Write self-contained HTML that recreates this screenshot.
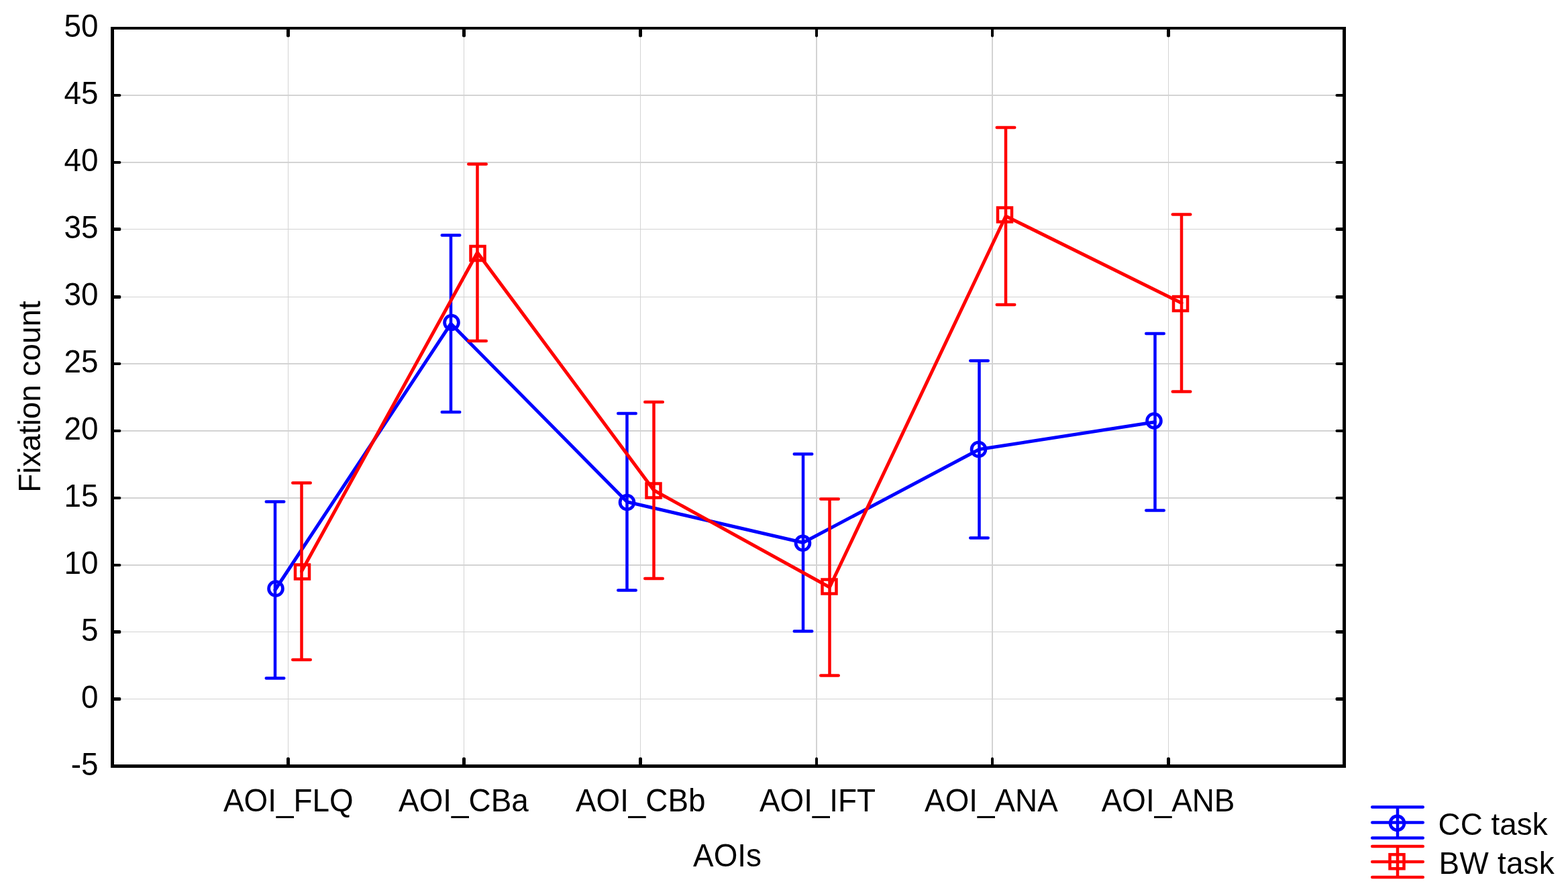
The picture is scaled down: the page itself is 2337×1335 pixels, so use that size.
<!DOCTYPE html>
<html lang="en">
<head>
<meta charset="utf-8">
<title>Fixation count by AOI</title>
<style>
html,body{margin:0;padding:0;background:#fff}
body{width:2337px;height:1335px;overflow:hidden}
svg{display:block}
</style>
</head>
<body>
<svg width="2337" height="1335" viewBox="0 0 2337 1335" role="img" aria-label="Fixation count by AOI for CC task and BW task">
<rect width="2337" height="1335" fill="#fff"/>
<g fill="#d3d3d3" shape-rendering="crispEdges">
<rect x="170" y="141" width="1831" height="2"/>
<rect x="170" y="241" width="1831" height="2"/>
<rect x="170" y="341" width="1831" height="1"/>
<rect x="170" y="442" width="1831" height="1"/>
<rect x="170" y="541" width="1831" height="2"/>
<rect x="170" y="641" width="1831" height="2"/>
<rect x="170" y="741" width="1831" height="2"/>
<rect x="170" y="841" width="1831" height="2"/>
<rect x="170" y="941" width="1831" height="1"/>
<rect x="170" y="1041" width="1831" height="1"/>
<rect x="429" y="44" width="1" height="1095"/>
<rect x="691" y="44" width="1" height="1095"/>
<rect x="954" y="44" width="1" height="1095"/>
<rect x="1216" y="44" width="2" height="1095"/>
<rect x="1478" y="44" width="2" height="1095"/>
<rect x="1741" y="44" width="1" height="1095"/>
</g>
<path d="M169 140H179L180.2 141V143L179 144H169ZM2002 140H1992L1990.6 141V143L1992 144H2002ZM169 240H179L180.2 241V243L179 244H169ZM2002 240H1992L1990.6 241V243L1992 244H2002ZM169 339H179L180.2 340V343L179 344H169ZM2002 339H1992L1990.6 340V343L1992 344H2002ZM169 440H179L180.2 441V444L179 445H169ZM2002 440H1992L1990.6 441V444L1992 445H2002ZM169 540H179L180.2 541V543L179 544H169ZM2002 540H1992L1990.6 541V543L1992 544H2002ZM169 640H179L180.2 641V643L179 644H169ZM2002 640H1992L1990.6 641V643L1992 644H2002ZM169 740H179L180.2 741V743L179 744H169ZM2002 740H1992L1990.6 741V743L1992 744H2002ZM169 840H179L180.2 841V843L179 844H169ZM2002 840H1992L1990.6 841V843L1992 844H2002ZM169 939H179L180.2 940V943L179 944H169ZM2002 939H1992L1990.6 940V943L1992 944H2002ZM169 1039H179L180.2 1040V1043L179 1044H169ZM2002 1039H1992L1990.6 1040V1043L1992 1044H2002ZM427 43V54L428 55.2H431L432 54V43ZM427 1140V1130L428 1128.4H431L432 1130V1140ZM689 43V54L690 55.2H693L694 54V43ZM689 1140V1130L690 1128.4H693L694 1130V1140ZM952 43V54L953 55.2H956L957 54V43ZM952 1140V1130L953 1128.4H956L957 1130V1140ZM1215 43V54L1216 55.2H1218L1219 54V43ZM1215 1140V1130L1216 1128.4H1218L1219 1130V1140ZM1477 43V54L1478 55.2H1480L1481 54V43ZM1477 1140V1130L1478 1128.4H1480L1481 1130V1140ZM1739 43V54L1740 55.2H1743L1744 54V43ZM1739 1140V1130L1740 1128.4H1743L1744 1130V1140Z" fill="#000"/>
<g stroke="#0000ff" stroke-width="4.5" fill="none" stroke-linecap="round" stroke-linejoin="round">
<path d="M410 747.5V1010.5M396.75 747.5h26.5M396.75 1010.5h26.5M672 350.5V614M658.75 350.5h26.5M658.75 614h26.5M934.5 616V879.5M921.25 616h26.5M921.25 879.5h26.5M1197 676.5V940.5M1183.75 676.5h26.5M1183.75 940.5h26.5M1459.5 537.5V801.5M1446.25 537.5h26.5M1446.25 801.5h26.5M1721.5 497V760.5M1708.25 497h26.5M1708.25 760.5h26.5"/>
<polyline points="410,879.0 672,482.25 934.5,747.75 1197,808.5 1459.5,669.5 1721.5,628.75" stroke-width="5"/>
<circle cx="411" cy="877" r="10.4" stroke-width="4.8"/>
<circle cx="673" cy="480.5" r="10.4" stroke-width="4.8"/>
<circle cx="934.5" cy="748.5" r="10.4" stroke-width="4.8"/>
<circle cx="1196.5" cy="809.3" r="10.4" stroke-width="4.8"/>
<circle cx="1458.5" cy="669.5" r="10.4" stroke-width="4.8"/>
<circle cx="1720" cy="627" r="10.4" stroke-width="4.8"/>
</g>
<g stroke="#ff0000" stroke-width="4.5" fill="none" stroke-linecap="round" stroke-linejoin="round">
<path d="M449.5 719.5V983M436.25 719.5h26.5M436.25 983h26.5M711.5 244.5V508M698.25 244.5h26.5M698.25 508h26.5M974.5 599V862M961.25 599h26.5M961.25 862h26.5M1236.5 743.5V1006.5M1223.25 743.5h26.5M1223.25 1006.5h26.5M1499 190V454M1485.75 190h26.5M1485.75 454h26.5M1761 319.5V583.5M1747.75 319.5h26.5M1747.75 583.5h26.5"/>
<polyline points="449.5,851.25 711.5,376.25 974.5,730.5 1236.5,875.0 1499,322.0 1761,451.5" stroke-width="5"/>
<rect x="440.0" y="841.5" width="21" height="21" stroke-linejoin="miter"/>
<rect x="701.5" y="367.0" width="21" height="21" stroke-linejoin="miter"/>
<rect x="963.5" y="720.5" width="21" height="21" stroke-linejoin="miter"/>
<rect x="1225.5" y="863.5" width="21" height="21" stroke-linejoin="miter"/>
<rect x="1487.0" y="309.5" width="21" height="21" stroke-linejoin="miter"/>
<rect x="1749.0" y="442.0" width="21" height="21" stroke-linejoin="miter"/>
</g>
<g stroke="#0000ff" stroke-width="4.5" fill="none" stroke-linecap="round">
<path d="M2045.2 1202.5H2120.8M2045.2 1225.5H2120.8M2045.2 1248.5H2120.8M2083 1202.5V1248.5"/>
<circle cx="2082.5" cy="1226.4" r="10.4" stroke-width="4.8"/>
</g>
<g stroke="#ff0000" stroke-width="4.5" fill="none" stroke-linecap="round">
<path d="M2045.2 1261H2120.8M2045.2 1284H2120.8M2045.2 1307H2120.8M2083 1261V1307"/>
<rect x="2071.5" y="1273.2" width="21" height="21" stroke-linejoin="miter"/>
</g>
<path fill="#000" fill-rule="evenodd" shape-rendering="crispEdges" d="M165 40H2006V1144H165ZM170 44V1139H2001V44Z"/>
<g font-family="'Liberation Sans', Arial, Helvetica, sans-serif" font-size="45.83" fill="#000">
<g text-anchor="end">
<text transform="translate(146.6 55.40) scale(1 1.04)">50</text>
<text transform="translate(146.6 155.35) scale(1 1.04)">45</text>
<text transform="translate(146.6 255.31) scale(1 1.04)">40</text>
<text transform="translate(146.6 355.26) scale(1 1.04)">35</text>
<text transform="translate(146.6 455.22) scale(1 1.04)">30</text>
<text transform="translate(146.6 555.17) scale(1 1.04)">25</text>
<text transform="translate(146.6 655.13) scale(1 1.04)">20</text>
<text transform="translate(146.6 755.08) scale(1 1.04)">15</text>
<text transform="translate(146.6 855.04) scale(1 1.04)">10</text>
<text transform="translate(146.6 954.99) scale(1 1.04)">5</text>
<text transform="translate(146.6 1054.95) scale(1 1.04)">0</text>
<text transform="translate(146.6 1154.90) scale(1 1.04)">-5</text>
</g>
<g text-anchor="middle">
<text transform="translate(429.8 1209) scale(1 1.04)">AOI_FLQ</text>
<text transform="translate(690.9 1209) scale(1 1.04)">AOI_CBa</text>
<text transform="translate(954.7 1209) scale(1 1.04)">AOI_CBb</text>
<text transform="translate(1218.5 1209) scale(1 1.04)">AOI_IFT</text>
<text transform="translate(1477.4 1209) scale(1 1.04)">AOI_ANA</text>
<text transform="translate(1741.1 1209) scale(1 1.04)">AOI_ANB</text>
<text transform="translate(1084 1291) scale(1 1.04)">AOIs</text>
<text transform="translate(60 591) rotate(-90)">Fixation count</text>
</g>
<text x="2143.6" y="1244">CC task</text>
<text x="2144.6" y="1302" letter-spacing="0.25">BW task</text>
</g>
</svg>
</body>
</html>
